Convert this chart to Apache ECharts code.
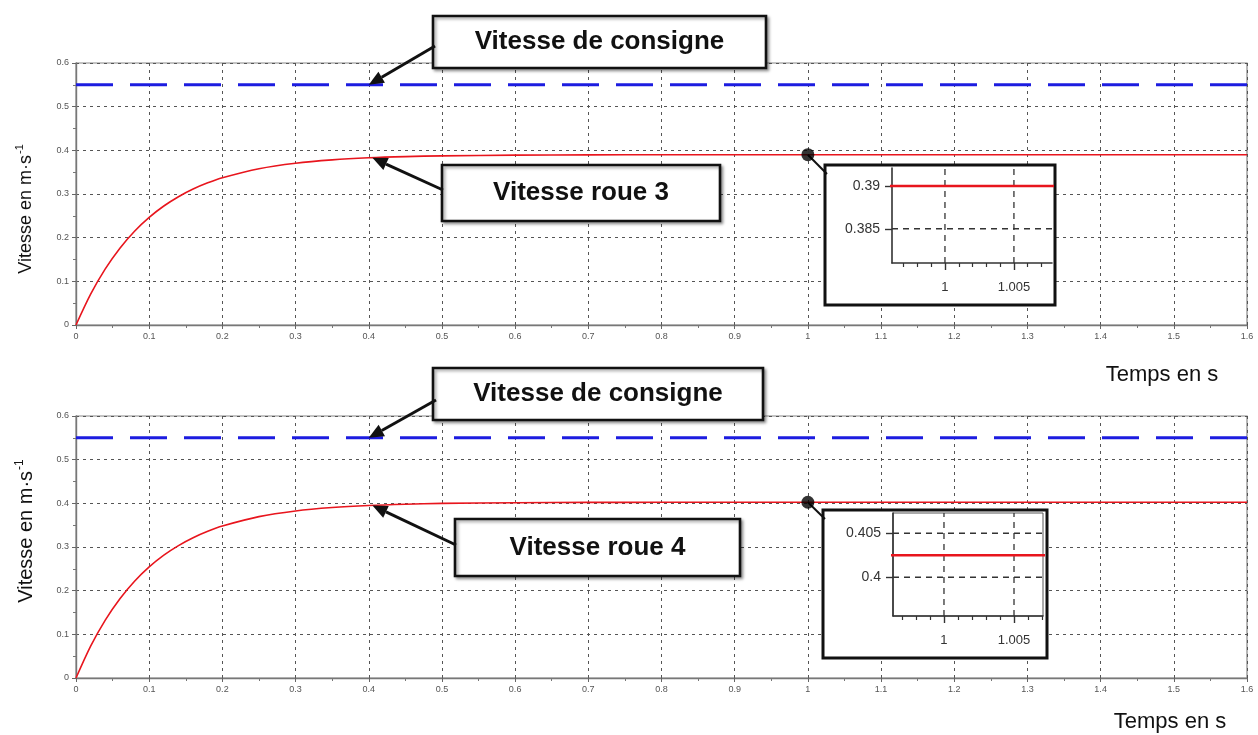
<!DOCTYPE html>
<html><head><meta charset="utf-8">
<script src="https://cdn.jsdelivr.net/npm/echarts@6/dist/echarts.min.js"></script>
<style>html,body{margin:0;padding:0;background:#fff}#c{width:1258px;height:735px}</style>
</head><body><div id="c"></div>
<script>
// ---- data ----
const timeS  = [0,0.02,0.04,0.06,0.08,0.1,0.12,0.14,0.16,0.18,0.2,0.25,0.3,0.35,0.4,0.45,0.5,0.6,0.7,0.8,1.0,1.6];
const roue3  = [0,0.0707,0.1286,0.176,0.2148,0.2465,0.2725,0.2938,0.3113,0.3255,0.3372,0.358,0.3706,0.3782,0.3829,0.3857,0.3874,0.389,0.3896,0.3899,0.39,0.39];
const roue4  = [0,0.073,0.1327,0.1816,0.2217,0.2544,0.2813,0.3032,0.3212,0.3359,0.348,0.3695,0.3825,0.3903,0.3951,0.398,0.3998,0.4015,0.4021,0.4024,0.4025,0.4025];
const consigne = 0.55;
const tRange = [0, 1.6];
const vRange = [0, 0.6];
const markT = 1.0;          // zoom point
const arrowT = 0.4;         // arrows point here
const inset3XRange = [0.99616, 1.00776];
const inset3YRange = [0.381, 0.3921];
const inset4XRange = [0.99636, 1.00707];
const inset4YRange = [0.3956, 0.4073];
const insetXTicks  = [1, 1.005];
const inset3XMinor = [0.997,0.998,0.999,1.001,1.002,1.003,1.004,1.006,1.007];
const inset4XMinor = [0.997,0.998,0.999,1.001,1.002,1.003,1.004,1.006,1.007];
const inset3YTicks = [0.385, 0.39];
const inset4YTicks = [0.4, 0.405];
const labelConsigne = 'Vitesse de consigne';
const labelRoue3 = 'Vitesse roue 3';
const labelRoue4 = 'Vitesse roue 4';
const yName = 'Vitesse en m·s';
const xName = 'Temps en s';

const FONT = 'Liberation Sans, Arial, sans-serif';
const pairs = (ys) => timeS.map((t,i)=>[t, ys[i]]);
const RED = '#e8151d', BLUE = '#1c1ce0';

function mainX(g){return {gridIndex:g,type:'value',min:tRange[0],max:tRange[1],interval:0.1,
  axisLine:{onZero:false,lineStyle:{color:'#777',width:1.4}},
  axisTick:{length:4,lineStyle:{color:'#666'}},
  minorTick:{show:true,splitNumber:2,length:3,lineStyle:{color:'#777'}},
  axisLabel:{fontSize:9,color:'#555',margin:7,fontFamily:FONT,formatter:v=>String(+v.toFixed(1))},
  splitLine:{show:true,lineStyle:{color:'#555',type:[3,4],width:1}}};}
function mainY(g){return {gridIndex:g,type:'value',min:vRange[0],max:vRange[1],interval:0.1,
  axisLine:{onZero:false,lineStyle:{color:'#777',width:1.4}},
  axisTick:{length:4,lineStyle:{color:'#666'}},
  minorTick:{show:true,splitNumber:2,length:3,lineStyle:{color:'#777'}},
  axisLabel:{fontSize:9,color:'#555',margin:7,fontFamily:FONT,formatter:v=>String(+v.toFixed(1))},
  splitLine:{show:true,lineStyle:{color:'#555',type:[3,4],width:1}}};}
function insetX(g,range,ticks){return {gridIndex:g,type:'value',min:range[0],max:range[1],position:'bottom',z:12,
  axisLine:{onZero:false,lineStyle:{color:'#333',width:1.6}},
  axisTick:{customValues:ticks,length:7,lineStyle:{color:'#333',width:1.4}},
  axisLabel:{customValues:ticks,fontSize:13,color:'#333',margin:18,fontFamily:FONT},
  splitLine:{show:false}};}
function insetXMinor(g,range,ticks){return {gridIndex:g,type:'value',min:range[0],max:range[1],position:'bottom',z:12,
  axisLine:{show:false},
  axisTick:{customValues:ticks,length:4,lineStyle:{color:'#333',width:1.2}},
  axisLabel:{show:false},splitLine:{show:false}};}
function insetY(g,range,ticks){return {gridIndex:g,type:'value',min:range[0],max:range[1],z:12,
  axisLine:{onZero:false,lineStyle:{color:'#333',width:1.6}},
  axisTick:{customValues:ticks,length:7,lineStyle:{color:'#333',width:1.4}},
  axisLabel:{customValues:ticks,fontSize:14,color:'#333',margin:12,fontFamily:FONT},
  splitLine:{show:false}};}
// dashed grid lines of an inset, one small line series per tick value
function insetGrid(axisIdx,xr,yr,xs,ys){
  const mk = d => ({type:'line',xAxisIndex:axisIdx,yAxisIndex:axisIdx,data:d,symbol:'none',silent:true,z:13,
    lineStyle:{color:'#333',type:[6,5],width:1.3}});
  return [...ys.map(v=>mk([[xr[0],v],[xr[1],v]])), ...xs.map(v=>mk([[v,yr[0]],[v,yr[1]]]))];
}

const chart = echarts.init(document.getElementById('c'));
const idxMark = timeS.indexOf(markT);
const idxArrow = timeS.indexOf(arrowT);

chart.setOption({
  animation:false,
  backgroundColor:'#fff',
  grid:[
    {left:76,top:63,width:1171,height:262,show:true,borderColor:'#888',borderWidth:1.2},
    {left:76,top:416,width:1171,height:262,show:true,borderColor:'#888',borderWidth:1.2},
    {left:892,top:168,width:160,height:95,show:false},
    {left:893,top:513,width:150,height:103,show:true,borderColor:'#555',borderWidth:1,z:11}
  ],
  xAxis:[mainX(0),mainX(1),
    insetX(2,inset3XRange,insetXTicks),insetX(3,inset4XRange,insetXTicks),
    insetXMinor(2,inset3XRange,inset3XMinor),insetXMinor(3,inset4XRange,inset4XMinor)],
  yAxis:[mainY(0),mainY(1),insetY(2,inset3YRange,inset3YTicks),insetY(3,inset4YRange,inset4YTicks)],
  series:[
    {type:'line',xAxisIndex:0,yAxisIndex:0,data:tRange.map(t=>[t,consigne]),symbol:'none',
      lineStyle:{color:BLUE,width:3,type:[37,17]},z:3},
    {type:'line',xAxisIndex:0,yAxisIndex:0,data:pairs(roue3),symbol:'none',smooth:0.3,
      lineStyle:{color:RED,width:1.6},z:3},
    {type:'line',xAxisIndex:1,yAxisIndex:1,data:tRange.map(t=>[t,consigne]),symbol:'none',
      lineStyle:{color:BLUE,width:3,type:[37,17]},z:3},
    {type:'line',xAxisIndex:1,yAxisIndex:1,data:pairs(roue4),symbol:'none',smooth:0.3,
      lineStyle:{color:RED,width:1.6},z:3},
    {type:'scatter',xAxisIndex:0,yAxisIndex:0,data:[[markT,roue3[idxMark]]],symbolSize:13,
      itemStyle:{color:'#000'},z:8},
    {type:'scatter',xAxisIndex:1,yAxisIndex:1,data:[[markT,roue4[idxMark]]],symbolSize:13,
      itemStyle:{color:'#000'},z:8},
    ...insetGrid(2,inset3XRange,inset3YRange,insetXTicks,inset3YTicks),
    ...insetGrid(3,inset4XRange,inset4YRange,insetXTicks,inset4YTicks),
    {type:'line',xAxisIndex:2,yAxisIndex:2,data:pairs(roue3),symbol:'none',clip:true,
      lineStyle:{color:RED,width:2.4},z:14},
    {type:'line',xAxisIndex:3,yAxisIndex:3,data:pairs(roue4),symbol:'none',clip:true,
      lineStyle:{color:RED,width:2.4},z:14}
  ]
});

function arrow(x1,y1,x2,y2){
  const a=Math.atan2(y2-y1,x2-x1), L=15, W=6.5;
  const bx=x2-L*Math.cos(a), by=y2-L*Math.sin(a);
  const px=-Math.sin(a)*W, py=Math.cos(a)*W;
  return [
    {type:'line',shape:{x1:x1,y1:y1,x2:bx,y2:by},style:{stroke:'#111',lineWidth:3},z:30},
    {type:'polygon',shape:{points:[[x2,y2],[bx+px,by+py],[bx-px,by-py]]},style:{fill:'#111'},z:30}
  ];
}
function box(x,y,w,h,text){
  return [
    {type:'rect',shape:{x:x,y:y,width:w,height:h},z:25,
      style:{fill:'#fff',stroke:'#111',lineWidth:2.6,shadowBlur:3,shadowOffsetX:2,shadowOffsetY:2,shadowColor:'rgba(0,0,0,0.35)'}},
    {type:'text',x:x+w/2,y:y+h/2,z:26,
      style:{text:text,fill:'#111',font:'bold 26px '+FONT,align:'center',verticalAlign:'middle'}}
  ];
}
const P = (g,x,y)=>chart.convertToPixel({gridIndex:g},[x,y]);

const tipC0 = P(0,arrowT,consigne), tipR0 = P(0,arrowT+0.005,roue3[idxArrow]);
const tipC1 = P(1,arrowT,consigne), tipR1 = P(1,arrowT+0.005,roue4[idxArrow]);
const dot0 = P(0,markT,roue3[idxMark]), dot1 = P(1,markT,roue4[idxMark]);

const g = [];
// inset frames (over main chart, under inset axes and grid lines)
g.push({type:'rect',shape:{x:825,y:165,width:230,height:140},z:4,style:{fill:'#fff',stroke:'#111',lineWidth:3}});
g.push({type:'rect',shape:{x:823,y:510,width:224,height:148},z:4,style:{fill:'#fff',stroke:'#111',lineWidth:3}});
g.push({type:'line',shape:{x1:dot0[0],y1:dot0[1],x2:827,y2:174},z:7,style:{stroke:'#111',lineWidth:2}});
g.push({type:'line',shape:{x1:dot1[0],y1:dot1[1],x2:825,y2:519},z:7,style:{stroke:'#111',lineWidth:2}});
// annotation boxes + arrows
g.push(...arrow(435,46,tipC0[0],tipC0[1]));
g.push(...box(433,16,333,52,labelConsigne));
g.push(...arrow(443,190,tipR0[0],tipR0[1]));
g.push(...box(442,165,278,56,labelRoue3));
g.push(...arrow(436,400,tipC1[0],tipC1[1]));
g.push(...box(433,368,330,52,labelConsigne));
g.push(...arrow(456,545,tipR1[0],tipR1[1]));
g.push(...box(455,519,285,57,labelRoue4));
// axis names
g.push({type:'text',x:26,y:209,rotation:Math.PI/2,z:5,
  style:{text:'{a|'+yName+'}{b|-1}',rich:{a:{fontSize:18,fontFamily:FONT,fill:'#111'},b:{fontSize:11,fontFamily:FONT,fill:'#111',padding:[0,0,12,1]}},align:'center',verticalAlign:'middle'}});
g.push({type:'text',x:26,y:531,rotation:Math.PI/2,z:5,
  style:{text:'{a|'+yName+'}{b|-1}',rich:{a:{fontSize:20,fontFamily:FONT,fill:'#111'},b:{fontSize:12,fontFamily:FONT,fill:'#111',padding:[0,0,13,1]}},align:'center',verticalAlign:'middle'}});
g.push({type:'text',x:1162,y:375,z:5,style:{text:xName,font:'22px '+FONT,fill:'#111',align:'center',verticalAlign:'middle'}});
g.push({type:'text',x:1170,y:722,z:5,style:{text:xName,font:'22px '+FONT,fill:'#111',align:'center',verticalAlign:'middle'}});

chart.setOption({graphic:{elements:g}});
</script>
</body></html>
